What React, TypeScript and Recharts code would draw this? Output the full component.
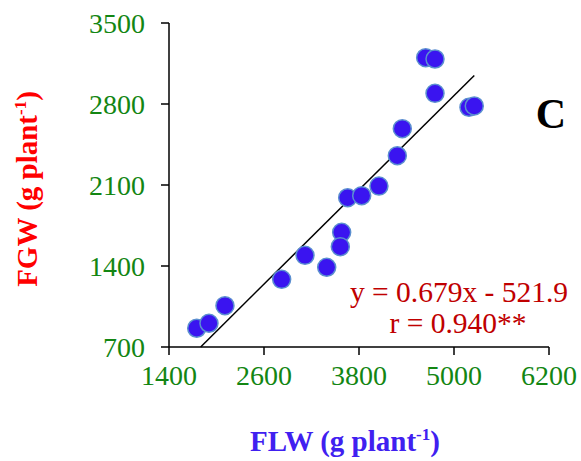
import React from 'react'
import { ScatterChart, Scatter, XAxis, YAxis, ReferenceLine, Label } from 'recharts'

const flw = [1750, 1905, 2107, 2823, 3118, 3392, 3581, 3564, 3657, 3834, 4052, 4284, 4347, 4642, 4760, 4760, 5189, 5256]
const fgw = [862, 905, 1057, 1285, 1492, 1389, 1691, 1567, 1990, 2008, 2091, 2353, 2587, 3200, 3189, 2892, 2771, 2783]
const xTicks = [1400, 2600, 3800, 5000, 6200]
const yTicks = [700, 1400, 2100, 2800, 3500]
const slope = 0.679
const intercept = -521.9
const fitRange = [1800, 5256]

const points = flw.map((x, i) => ({ x, y: fgw[i] }))
const fitSegment = fitRange.map((x) => ({ x, y: slope * x + intercept }))

const font = '"Liberation Serif", "Times New Roman", serif'
const tickGreen = '#138613'

const XTitle = ({ viewBox }: any) => {
  const cx = viewBox.x + viewBox.width / 2 - 14
  return (
    <text x={cx} y={viewBox.y + 104} textAnchor="middle" fill="#4020F0" fontFamily={font} fontWeight="bold" fontSize={29}>
      FLW (g plant<tspan dy={-11} fontSize={17}>-1</tspan><tspan dy={11}>)</tspan>
    </text>
  )
}

const YTitle = ({ viewBox }: any) => {
  const cy = viewBox.y + viewBox.height / 2 + 4
  const cx = 37
  return (
    <text x={cx} y={cy} transform={`rotate(-90 ${cx} ${cy})`} textAnchor="middle" fill="#FF0000" fontFamily={font} fontWeight="bold" fontSize={29}>
      FGW (g plant<tspan dy={-11} fontSize={17}>-1</tspan><tspan dy={11}>)</tspan>
    </text>
  )
}

export default function App() {
  return (
    <div style={{ position: 'absolute', left: 0, top: 0, background: '#fff' }}>
      <ScatterChart width={581} height={461} margin={{ top: 23, right: 32, bottom: 0, left: 0 }}>
        <XAxis
          type="number"
          dataKey="x"
          domain={[1400, 6200]}
          ticks={xTicks}
          height={114}
          tickSize={8}
          tickMargin={10}
          axisLine={{ stroke: '#000', strokeWidth: 1.5 }}
          tickLine={{ stroke: '#000', strokeWidth: 1.5 }}
          tick={{ fill: tickGreen, fontSize: 28, fontFamily: font }}
          interval={0}
        >
          <Label content={<XTitle />} />
        </XAxis>
        <YAxis
          type="number"
          dataKey="y"
          domain={[700, 3500]}
          ticks={yTicks}
          width={169}
          tickSize={8}
          tickMargin={16}
          axisLine={{ stroke: '#000', strokeWidth: 1.5 }}
          tickLine={{ stroke: '#000', strokeWidth: 1.5 }}
          tick={{ fill: tickGreen, fontSize: 28, fontFamily: font }}
          interval={0}
        >
          <Label content={<YTitle />} />
        </YAxis>
        <ReferenceLine segment={fitSegment} stroke="#000" strokeWidth={1.5} ifOverflow="visible" />
        <Scatter
          data={points}
          isAnimationActive={false}
          shape={(p: any) => <circle cx={p.cx} cy={p.cy} r={9} fill="#3A14F0" stroke="#5B8FD0" strokeWidth={1.5} />}
        />
        <text x={459} y={302} textAnchor="middle" fill="#C00000" fontFamily={font} fontSize={29.5}>y = 0.679x - 521.9</text>
        <text x={458} y={333} textAnchor="middle" fill="#C00000" fontFamily={font} fontSize={29.5}>r = 0.940**</text>
        <text x={551} y={128} textAnchor="middle" fill="#000" fontFamily={font} fontWeight="bold" fontSize={42}>C</text>
      </ScatterChart>
    </div>
  )
}
